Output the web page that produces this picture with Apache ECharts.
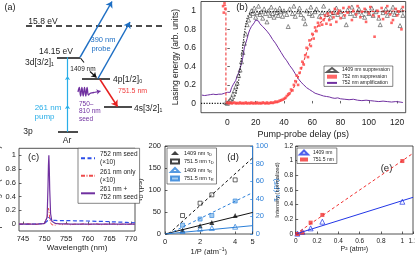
<!DOCTYPE html>
<html><head><meta charset="utf-8">
<script src="https://cdn.jsdelivr.net/npm/echarts@6/dist/echarts.min.js"></script>
<style>html,body{margin:0;padding:0;background:#fff}#c{width:415px;height:255px}</style>
</head><body><div id="c"></div>
<script>
const FONT = '"Liberation Sans", Arial, sans-serif';
const PURPLE = '#7030a0', RED = '#f03c3c', BLUE_C = '#2c4ee8', BLUE_D = '#2b7fd8', BLUE_E = '#2236e6';
const LBLUE = '#29aee8', PBLUE = '#1e6fc4', INK = '#222';

// ===== panel (a) diagram geometry (diagram units = px of hidden grid) =====
const aLevels = [[[57,57.3],[80,57.3]], [[82,78.5],[110,78.5]], [[104,106.7],[132,106.7]], [[58,131.7],[78,131.7]]];
const aIonLimit = [[[26,26],[165,26]]];
const aPumpArrowed = [[[67.5,131.7],[67.5,105]], [[67.5,105],[67.5,76]]];
const aPumpPlain = [[[67.5,76],[67.5,57.3]]];
const aProbe = [[[80,57.3],[112,1.5]], [[98,78.5],[130,22]]];
const a1409 = [[[90,71.5],[96.5,77.5]]];
const a1409hook = [[[80.5,58],[84,62.5]]];
const a751 = [[[100,79.5],[117.5,106.5]]];
const aSeedTail = [[[94,92.5],[100.5,91.2]]];
const aWave = [[78,92],[79.3,87.5],[80.6,96],[81.9,87.5],[83.2,96],[84.5,87.5],[85.8,96],[87.1,87.5],[88.4,95],[90,93.5],[92,92.8],[94,92.5]];
const aTexts = [
  ['(a)', 10, 8, INK, 9, 'center'],
  ['15.8 eV', 43, 21.5, INK, 8.5, 'center'],
  ['14.15 eV', 56, 51.7, INK, 8.5, 'center'],
  ['3d[3/2]\u2081', 25, 62.5, INK, 8.5, 'left'],
  ['390 nm', 103, 40, PBLUE, 7.5, 'center'],
  ['probe', 101, 48.5, PBLUE, 7.5, 'center'],
  ['1409 nm', 83, 69.5, INK, 6.5, 'center'],
  ['4p[1/2]\u2080', 113, 80, INK, 8.5, 'left'],
  ['751.5 nm', 118, 91, RED, 7, 'left'],
  ['4s[3/2]\u2081', 134, 109, INK, 8.5, 'left'],
  ['261 nm', 48, 108, LBLUE, 8, 'center'],
  ['pump', 44.5, 117, LBLUE, 8, 'center'],
  ['750\u2013', 79, 104, PURPLE, 6.5, 'left'],
  ['810 nm', 79, 111.7, PURPLE, 6.5, 'left'],
  ['seed', 79, 119, PURPLE, 6.5, 'left'],
  ['3p', 28, 131.7, INK, 8.5, 'center'],
  ['Ar', 67, 141, INK, 8.5, 'center']
];

// ===== panel (b) =====
const bTicksX = [0,20,40,60,80,100,120];
const bTicksY = [0,0.2,0.4,0.6,0.8,1];
const ampT = [-18,-16,-14,-12,-10,-8,-6,-4,-2,0,1,2,3,4,5,6,7,8,9,10,11,12,13,14,15,16,17,18,19,20,21,22,23,24,25,26,28,30,32,34,36,38,40,42,44,46,48,50,52,54,56,58,60,62,64,66,68,70,72,74,76,78,80,83,86,89,92,95,98,101,104,107,110,113,116,119,122,124];
const ampV = [0.09,0.085,0.09,0.095,0.1,0.095,0.1,0.1,0.11,0.12,0.13,0.12,0.17,0.2,0.22,0.25,0.3,0.33,0.38,0.43,0.5,0.6,0.65,0.7,0.76,0.8,0.83,0.85,0.87,0.9,0.88,0.89,0.86,0.85,0.83,0.82,0.78,0.74,0.69,0.65,0.6,0.55,0.5,0.46,0.41,0.37,0.32,0.27,0.23,0.2,0.17,0.15,0.13,0.11,0.1,0.09,0.08,0.075,0.07,0.06,0.055,0.06,0.05,0.045,0.04,0.045,0.035,0.03,0.035,0.03,0.025,0.02,0.025,0.02,0.015,0.02,0.015,0.01];
const sup1409 = [[-1,0.01],[0,0],[1,0.02],[2,0.04],[3,0.06],[4,0.1],[5,0.14],[6,0.18],[7,0.22],[8,0.3],[9,0.36],[10,0.45],[11,0.55],[12,0.65],[13,0.75],[14,0.85],[15,0.9],
 [16,0.95],[17,1.0],[18,0.97],[19,1.03],[20,0.93],[21,0.98],[22,1.05],[23,0.96],[24,0.99],[25,0.92],[26,1.02],[27,0.97],[28,0.88],[29,1.0],[30,0.95],[31,1.04],[32,0.97],[33,0.93],[34,1.01],[35,0.98],[36,0.95],[37,1.03],[38,0.99],[39,0.94],[40,1.0],[42,0.96],[43,0.83],[44,1.02],[46,0.97],[47,1.05],[48,0.94],[50,0.99],[51,1.03],[52,0.96],[54,0.92],[55,0.86],[56,1.0],[58,0.97],[59,1.04],[60,0.95],[62,0.99],[63,1.02],[65,0.94],[67,0.98],[68,1.05],[70,0.96],[72,1.0],[73,0.93],[75,0.98],[77,1.03],[78,0.96],[80,0.99],[82,0.94],[84,0.85],[85,1.01],[87,0.97],[88,1.04],[90,0.95],[92,0.99],[93,1.02],[95,0.96],[97,0.93],[98,1.0],[100,0.97],[102,1.03],[103,0.95],[105,0.99],[107,0.92],[108,0.85],[110,0.98],[112,1.02],[113,0.95],[115,0.99],[117,1.04],[118,0.96],[120,0.98],[122,0.84],[123,1.01],[124,0.95]];
const fit1409 = [[-18.6,0],[2,0],[4,0.03],[6,0.1],[8,0.25],[9,0.36],[10,0.5],[11,0.63],[12,0.75],[13,0.85],[14,0.92],[15,0.96],[17,0.98],[20,0.99],[126,0.99]];
const sup752 = [[-3,1.05],[-2.5,0.98],[-2,1.08],[-1.5,1.02],
 [0,0.01],[1,0],[2,0.01],[3,0],[4,0.005],[5,0.01],[6,0],[7,0.005],[8,0],[9,0.01],[10,0],[11,0.005],[12,0],[13,0.01],[14,0],[15,0.005],[16,0],[17,0.01],[18,0],[19,0.005],[20,0],[21,0.01],[22,0],[23,0.005],[24,0],[25,0.01],[26,0.005],[27,0],[28,0.01],[29,0],[30,0.005],[31,0.01],[32,0.005],[33,0.01],[34,0.02],[35,0.015],[36,0.02],[37,0.03],[38,0.035],[39,0.04],[40,0.05],[41,0.06],
 [42,0.08],[43,0.1],[44,0.11],[45,0.15],[46,0.14],[47,0.2],[48,0.24],[49,0.3],[50,0.2],[51,0.33],[52,0.38],[53,0.45],[54,0.42],[55,0.52],[56,0.6],[57,0.5],[58,0.68],[59,0.62],[60,0.75],[61,0.7],[62,0.82],[63,0.78],[64,0.87],[65,0.84],[66,0.92],[67,0.85],[68,0.9],[69,0.95],[70,0.86],[71,0.97],[72,0.9],[73,0.85],[74,0.98],[75,0.93],[76,1.02],[77,0.88],[78,0.97],[79,1.0],[80,0.92],
 [82,1.03],[83,0.95],[85,0.98],[86,1.04],[88,0.9],[89,1.0],[91,0.96],[92,1.05],[94,0.93],[95,0.99],[97,1.02],[98,0.88],[100,0.97],[101,1.04],[103,0.95],[104,0.72],[106,1.0],[107,0.94],[109,1.03],[110,0.91],[112,0.98],[113,1.05],[115,0.96],[116,0.87],[117,0.9],[119,1.02],[120,0.95],[121,0.99],[123,0.8],[124,1.04]];
const fit752 = [[-3,1.06],[-1,1.06],[-1,0],[30,0],[35,0.01],[40,0.04],[44,0.1],[48,0.2],[52,0.36],[56,0.55],[60,0.72],[64,0.84],[68,0.91],[72,0.95],[80,0.98],[90,0.99],[126,1.0]];

// ===== panel (c) =====
const cTicksX = [745,750,755,760,765,770];
const cTicksY = [0,0.2,0.4,0.6,0.8,1];
const cX =      [744.1,746,748,749,749.5,750,750.3,750.6,750.8,750.9,751.0,751.1,751.2,751.4,751.7,752,752.5,753,754,755,756,757,758,759,760,761,762,763,764,765,766,767,768,769,770,770.9];
const cBoth =   [0,0,0,0.002,0.005,0.01,0.02,0.1,0.55,0.85,1.0,0.8,0.5,0.15,0.04,0.015,0.01,0.005,0.003,0.002,0,0,0,0,0,0,0,0,0,0,0,0,0,0,0,0];
const cOnly =   [0,0.005,-0.005,0.005,0,0.01,0.03,0.1,0.2,0.23,0.2,0.15,0.08,0.02,-0.01,0.005,-0.015,0.01,-0.01,0.005,-0.01,0,-0.005,0.005,-0.01,0,0.005,-0.01,0,-0.005,0.005,-0.01,0,-0.005,0,0];
const cSeed =   [0,0,0.003,0.005,0.008,0.012,0.02,0.04,0.07,0.09,0.1,0.09,0.08,0.07,0.06,0.055,0.055,0.05,0.05,0.05,0.05,0.048,0.047,0.046,0.045,0.042,0.04,0.04,0.038,0.035,0.032,0.03,0.028,0.025,0.022,0.02];
const cNames = {c_seed:'752 nm seed\n(\u00d710)', c_only:'261 nm only\n(\u00d710)', c_both:'261 nm +\n752 nm seed'};

// ===== panel (d) =====
const dX = [1,2,2.67,4];
const dTd1409 = [9,19,26,42];
const dTd751 = [42,70,89,123];
const dTr1409 = [3.4,6,6.8,8.3];
const dTr751 = [10,17,21,37.5];
const dFitTd1409 = [[0,0],[5,49]];
const dFitTd751 = [[0.2,0],[5,173]];
const dFitTr1409 = [[0,0],[5,9.5]];
const dFitTr751 = [[0.2,0],[5,47]];
const dNames = {d1:'1409 nm {i|\u03c4}{s|D}', d2:'751.5 nm {i|\u03c4}{s|D}', d3:'1409 nm {i|\u03c4}{s|R}', d4:'751.5 nm {i|\u03c4}{s|R}'};

// ===== panel (e) =====
const eX = [0.0156,0.0625,0.14,0.25,1.0];
const e1409 = [0.005,0.03,0.077,0.168,0.44];
const e751 = [0.0,0.02,0.155,0.26,0.995];
const eFit1409 = [[0,0],[1.1,0.5]];
const eFit751 = [[0,0],[1.1,1.1]];
const eNames = {e1:'1409 nm', e2:'751.5 nm'};

const zip = (xs, ys) => xs.map((x,i)=>[x, ys[i]]);

function xax(grid, o){
  return Object.assign({type:'value', gridIndex:grid, axisLine:{show:false},
    axisTick:{inside:true, length:2.5, lineStyle:{color:INK, width:0.7}},
    axisLabel:{fontSize:7.5, color:INK, margin:4, fontFamily:FONT},
    splitLine:{show:false}, nameLocation:'middle',
    nameTextStyle:{fontSize:8, color:INK, fontFamily:FONT}}, o);
}
const gridBase = {show:true, borderColor:'#262626', borderWidth:0.8, backgroundColor:'transparent', containLabel:false, outerBoundsMode:'none'};

const linesSeries = (data, color, width, arrow, extra) => Object.assign({
  type:'lines', coordinateSystem:'cartesian2d', xAxisIndex:0, yAxisIndex:0, silent:true,
  symbol: arrow ? ['none','arrow'] : ['none','none'], symbolSize: arrow || 0,
  lineStyle:{color, width, opacity:1, curveness:0},
  data: data.map(c=>({coords:c}))
}, extra || {});

const legBox = {orient:'vertical', borderColor:'#333', borderWidth:0.6, borderRadius:0, backgroundColor:'#fff', selectedMode:false};
const noDot = {opacity:0};

const option = {
  animation:false,
  textStyle:{fontFamily:FONT},
  grid:[
    {left:0, top:0, width:170, height:145, show:false, outerBoundsMode:'none'},
    Object.assign({left:201, top:1.5, width:204.7, height:111.2}, gridBase),
    Object.assign({left:19, top:148.3, width:116, height:82.7}, gridBase),
    Object.assign({left:165, top:146, width:87.7, height:88}, gridBase),
    Object.assign({left:295.7, top:146, width:117.3, height:88}, gridBase)
  ],
  xAxis:[
    {type:'value', gridIndex:0, min:0, max:170, show:false},
    xax(1, {min:-18.6, max:126, axisTick:{inside:true, length:2.5, customValues:bTicksX, lineStyle:{color:INK, width:0.7}},
      axisLabel:{customValues:bTicksX, fontSize:8.5, color:INK, margin:5, fontFamily:FONT},
      name:'Pump-probe delay (ps)', nameGap:17, nameTextStyle:{fontSize:9, color:INK, fontFamily:FONT}}),
    xax(2, {min:744.1, max:770.9, axisTick:{inside:true, length:2.5, customValues:cTicksX, lineStyle:{color:INK, width:0.7}},
      axisLabel:{customValues:cTicksX, fontSize:7.5, color:INK, margin:4, fontFamily:FONT},
      name:'Wavelength (nm)', nameGap:12}),
    xax(3, {min:0, max:5, interval:2, name:'1/P (atm{sup|\u22121})', nameGap:9,
      nameTextStyle:{fontSize:7.5, color:INK, fontFamily:FONT, rich:{sup:{fontSize:5, verticalAlign:'top', padding:[0,0,5,0]}}}}),
    xax(4, {min:0, max:1.1, interval:0.2, axisLabel:{fontSize:6.5, color:INK, margin:4, fontFamily:FONT},
      name:'P\u00b2 (atm\u00b2)', nameGap:9, nameTextStyle:{fontSize:7, color:INK, fontFamily:FONT}})
  ],
  yAxis:[
    {type:'value', gridIndex:0, min:0, max:145, inverse:true, show:false},
    xax(1, {min:-0.1, max:1.1, axisTick:{inside:true, length:2.5, customValues:bTicksY, lineStyle:{color:INK, width:0.7}},
      axisLabel:{customValues:bTicksY, fontSize:8.5, color:INK, margin:5, fontFamily:FONT},
      name:'Lasing energy (arb. units)', nameGap:21, nameRotate:90, nameTextStyle:{fontSize:8.5, color:INK, fontFamily:FONT}}),
    xax(2, {min:-0.1, max:1.1, axisTick:{inside:true, length:2.5, customValues:cTicksY, lineStyle:{color:INK, width:0.7}},
      axisLabel:{customValues:cTicksY, fontSize:7.5, color:INK, margin:3, fontFamily:FONT},
      name:'Spectral signal (arb. units)', nameGap:10.5, nameRotate:90, nameTextStyle:{fontSize:7.5, color:INK, fontFamily:FONT}}),
    xax(3, {min:0, max:200, interval:50, name:'{i|\u03c4}{s|D} (ps)', nameGap:15.5, nameRotate:90,
      nameTextStyle:{fontSize:8, color:INK, fontFamily:FONT, rich:{i:{fontSize:8}, s:{fontSize:5.5, verticalAlign:'bottom', padding:[4,0,0,0]}}}}),
    xax(3, {min:0, max:100, interval:20, position:'right', axisLine:{show:true, lineStyle:{color:BLUE_D, width:0.9}},
      axisTick:{inside:true, length:2.5, lineStyle:{color:BLUE_D, width:0.7}},
      axisLabel:{fontSize:7.5, color:BLUE_D, margin:3, fontFamily:FONT},
      name:'{i|\u03c4}{s|R} (ps)', nameGap:15, nameRotate:90,
      nameTextStyle:{fontSize:8, color:BLUE_D, fontFamily:FONT, rich:{i:{fontSize:8, color:BLUE_D}, s:{fontSize:5.5, color:BLUE_D, verticalAlign:'bottom', padding:[4,0,0,0]}}}}),
    xax(4, {min:0, max:1.2, interval:0.2, axisLabel:{fontSize:6.5, color:INK, margin:2.5, fontFamily:FONT},
      name:'Intensity (normalized)', nameGap:12.5, nameRotate:90, nameTextStyle:{fontSize:5.8, color:INK, fontFamily:FONT}})
  ],
  legend:[
    Object.assign({show:true, data:['1409 nm suppression','752 nm suppression',{name:'752 nm amplification', itemStyle:noDot}], left:324, top:66,
     itemWidth:10, itemHeight:4, itemGap:1.2, padding:[1,3,1,2], textStyle:{fontSize:5, color:INK, fontFamily:FONT}}, legBox),
    Object.assign({show:true, data:['c_seed','c_only','c_both'].map(n=>({name:n, itemStyle:noDot})), formatter:n=>cNames[n], left:78, top:148.3,
     itemWidth:14, itemHeight:6, itemGap:1.5, padding:[2,2,2,2], textStyle:{fontSize:6.5, lineHeight:8, color:INK, fontFamily:FONT}}, legBox),
    Object.assign({show:true, data:['d1','d2','d3','d4'], formatter:n=>dNames[n], left:167, top:148,
     itemWidth:8, itemHeight:4, itemGap:2, padding:[2,3,2,3],
     textStyle:{fontSize:5.5, color:INK, fontFamily:FONT, rich:{i:{fontSize:5.5}, s:{fontSize:4, verticalAlign:'bottom', padding:[3,0,0,0]}}}}, legBox),
    Object.assign({show:true, data:['e1','e2'], formatter:n=>eNames[n], left:297, top:148,
     itemWidth:8, itemHeight:4, itemGap:1.5, padding:[1.5,3,1.5,2], textStyle:{fontSize:5, color:INK, fontFamily:FONT}}, legBox)
  ],
  graphic: aTexts.map(([t,x,y,c,s,a]) => ({type:'text', x, y, silent:true,
      style:{text:t, fill:c, font:s+'px '+FONT, align:a, verticalAlign:'middle'}}))
    .concat([
      {type:'text', x:242, y:7.5, style:{text:'(b)', fill:INK, font:'9.5px '+FONT, align:'center', verticalAlign:'middle', backgroundColor:'#fff', padding:[0,1]}},
      {type:'text', x:33.5, y:157.5, style:{text:'(c)', fill:INK, font:'9.5px '+FONT, align:'center', verticalAlign:'middle'}},
      {type:'text', x:233, y:157.5, style:{text:'(d)', fill:INK, font:'9.5px '+FONT, align:'center', verticalAlign:'middle'}},
      {type:'text', x:386.5, y:168, style:{text:'(e)', fill:INK, font:'9.5px '+FONT, align:'center', verticalAlign:'middle'}}
    ]),
  series:[
    // (a)
    linesSeries(aIonLimit, '#111', 1.5, 0, {lineStyle:{color:'#111', width:1.5, type:[6,4], opacity:1}}),
    linesSeries(aLevels, '#111', 1.7, 0),
    linesSeries(aPumpArrowed, LBLUE, 1.2, 4),
    linesSeries(aPumpPlain, LBLUE, 1.2, 0),
    linesSeries(aProbe, PBLUE, 1.5, 6),
    linesSeries(a1409hook, '#111', 1.1, 0),
    linesSeries(a1409, '#111', 1.1, 5),
    linesSeries(a751, '#e5201f', 1.5, 6),
    {type:'line', xAxisIndex:0, yAxisIndex:0, data:aWave, smooth:0.4, showSymbol:false, silent:true, lineStyle:{color:PURPLE, width:1.3}},
    linesSeries(aSeedTail, PURPLE, 1.2, 4),
    // (b)
    {name:'752 nm amplification', type:'line', xAxisIndex:1, yAxisIndex:1, data:zip(ampT, ampV), showSymbol:false, symbol:'none',
     lineStyle:{color:PURPLE, width:1}, itemStyle:{color:PURPLE}, z:3},
    {name:'fit1409', type:'line', xAxisIndex:1, yAxisIndex:1, data:fit1409, showSymbol:false, symbol:'none', lineStyle:{color:'#111', width:1.2, type:[1.2,1.5]}, z:4},
    {name:'1409 nm suppression', type:'scatter', xAxisIndex:1, yAxisIndex:1, data:sup1409, symbol:'triangle', symbolSize:4,
     itemStyle:{color:'rgba(255,255,255,0)', borderColor:'#333', borderWidth:0.7}, z:5},
    {name:'fit752', type:'line', xAxisIndex:1, yAxisIndex:1, data:fit752, showSymbol:false, symbol:'none', lineStyle:{color:RED, width:1.1, type:[3,2]}, z:4},
    {name:'752 nm suppression', type:'scatter', xAxisIndex:1, yAxisIndex:1, data:sup752, symbol:'rect', symbolSize:2.6,
     itemStyle:{color:'#ff4a4a', opacity:0.85}, z:5},
    // (c)
    {name:'c_seed', type:'line', xAxisIndex:2, yAxisIndex:2, data:zip(cX, cSeed), showSymbol:false, symbol:'none', lineStyle:{color:BLUE_C, width:1.2, type:[4,2.5]}, itemStyle:{color:BLUE_C}},
    {name:'c_only', type:'line', xAxisIndex:2, yAxisIndex:2, data:zip(cX, cOnly), showSymbol:false, symbol:'none', lineStyle:{color:'#ee4b4b', width:1, type:[4,1.5,1,1.5]}, itemStyle:{color:'#ee4b4b'}},
    {name:'c_both', type:'line', xAxisIndex:2, yAxisIndex:2, data:zip(cX, cBoth), showSymbol:false, symbol:'none', lineStyle:{color:PURPLE, width:1.2}, itemStyle:{color:PURPLE}},
    // (d)
    {name:'d1fit', type:'line', xAxisIndex:3, yAxisIndex:3, data:dFitTd1409, showSymbol:false, symbol:'none', lineStyle:{color:'#111', width:1}},
    {name:'d2fit', type:'line', xAxisIndex:3, yAxisIndex:3, data:dFitTd751, showSymbol:false, symbol:'none', lineStyle:{color:'#111', width:1, type:[3,2.5]}},
    {name:'d3fit', type:'line', xAxisIndex:3, yAxisIndex:4, data:dFitTr1409, showSymbol:false, symbol:'none', lineStyle:{color:BLUE_D, width:1}},
    {name:'d4fit', type:'line', xAxisIndex:3, yAxisIndex:4, data:dFitTr751, showSymbol:false, symbol:'none', lineStyle:{color:BLUE_D, width:1, type:[3,2.5]}},
    {name:'d1', type:'scatter', xAxisIndex:3, yAxisIndex:3, data:zip(dX, dTd1409), symbol:'triangle', symbolSize:5, itemStyle:{color:'#111'}},
    {name:'d2', type:'scatter', xAxisIndex:3, yAxisIndex:3, data:zip(dX, dTd751), symbol:'rect', symbolSize:4, itemStyle:{color:'rgba(255,255,255,0)', borderColor:'#111', borderWidth:0.8}},
    {name:'d3', type:'scatter', xAxisIndex:3, yAxisIndex:4, data:zip(dX, dTr1409), symbol:'triangle', symbolSize:5, itemStyle:{color:'rgba(255,255,255,0)', borderColor:BLUE_D, borderWidth:0.9}},
    {name:'d4', type:'scatter', xAxisIndex:3, yAxisIndex:4, data:zip(dX, dTr751), symbol:'rect', symbolSize:4, itemStyle:{color:'#8fc0ee', borderColor:BLUE_D, borderWidth:0.8}},
    // (e)
    {name:'e1fit', type:'line', xAxisIndex:4, yAxisIndex:5, data:eFit1409, showSymbol:false, symbol:'none', lineStyle:{color:BLUE_E, width:1}},
    {name:'e2fit', type:'line', xAxisIndex:4, yAxisIndex:5, data:eFit751, showSymbol:false, symbol:'none', lineStyle:{color:'#f03030', width:1, type:[3,2.5]}},
    {name:'e1', type:'scatter', xAxisIndex:4, yAxisIndex:5, data:zip(eX, e1409), symbol:'triangle', symbolSize:5, itemStyle:{color:'rgba(255,255,255,0)', borderColor:BLUE_E, borderWidth:0.9}},
    {name:'e2', type:'scatter', xAxisIndex:4, yAxisIndex:5, data:zip(eX, e751), symbol:'rect', symbolSize:4, itemStyle:{color:'#f03030'}}
  ]
};
const chart = echarts.init(document.getElementById('c'), null, {renderer:'canvas'});
chart.setOption(option);
</script>
</body></html>
